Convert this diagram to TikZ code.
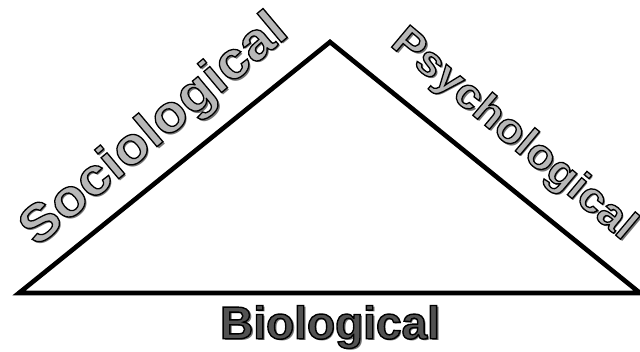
\documentclass[tikz,border=0pt]{standalone}
\usepackage{fontspec}
\setmainfont{Liberation Sans}
\newfontfamily\heavyfont{Liberation Sans}[FakeStretch=1.08]
\newcommand\outltext[3]{{\color{#1}\special{pdf:literal direct 0 G #2 w 2 Tr}#3\special{pdf:literal direct 0 Tr}}}
\begin{document}
\begin{tikzpicture}[x=1pt,y=1pt,
  lbl/.style={inner sep=0pt},
  sidefont/.style={font=\heavyfont\bfseries\fontsize{#1}{#1}\selectfont},
  shadowlbl/.style={lbl,text=black!55}]
\useasboundingbox (0,0) rectangle (640,352);
\coordinate (L) at (19,59);
\coordinate (T) at (330,310);
\coordinate (R) at (640,59);
\draw[line width=4.6pt,line join=miter] (L) -- (T) -- (R) -- cycle;
% Sociological
\node[shadowlbl,sidefont=52,rotate=40] (socs) at (157,219) {Sociological};
\node[lbl,sidefont=52,rotate=40] (soc) at (155,221) {\outltext{black!28}{1.3}{Sociological}};
% Psychological
\node[shadowlbl,sidefont=42,rotate=-40] (psys) at (515,215) {Psychological};
\node[lbl,sidefont=42,rotate=-40] (psy) at (513,217) {\outltext{black!28}{1.3}{Psychological}};
% Biological
\node[shadowlbl,font=\bfseries\fontsize{46}{46}\selectfont] (bios) at (332,23) {Biological};
\node[lbl,font=\bfseries\fontsize{46}{46}\selectfont] (bio) at (330,25) {\outltext{black!68}{1.4}{Biological}};
\end{tikzpicture}
\end{document}
